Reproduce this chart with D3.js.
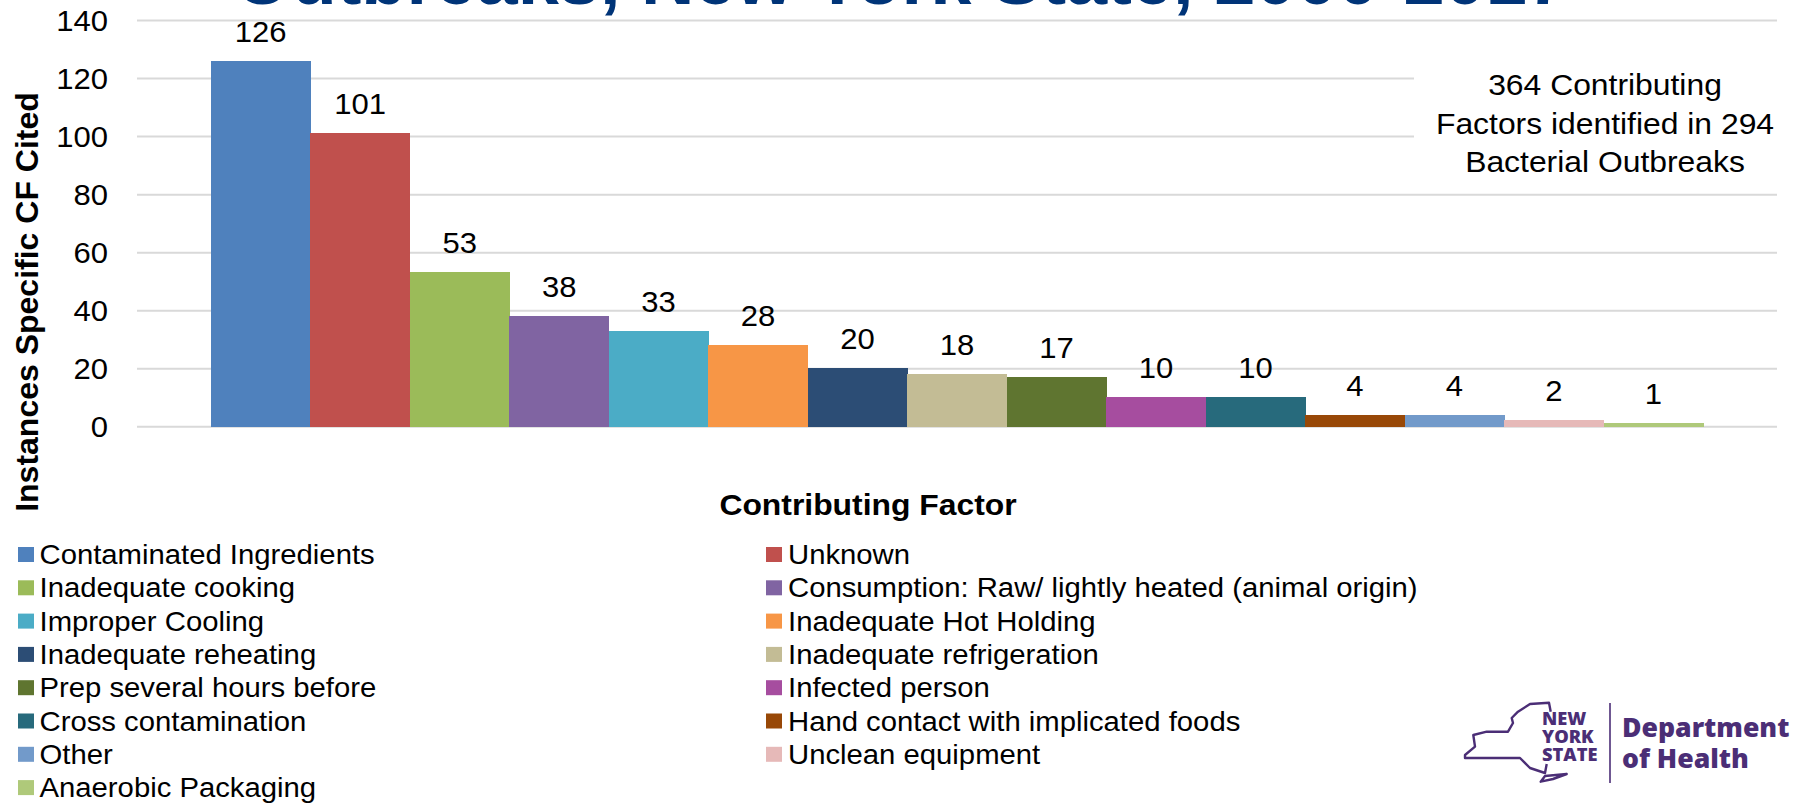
<!DOCTYPE html>
<html><head><meta charset="utf-8">
<script src="https://cdn.jsdelivr.net/npm/d3@7"></script>
<style>
html,body{margin:0;padding:0;background:#fff;overflow:hidden}
svg{display:block}
text{font-family:"Liberation Sans",Arial,sans-serif;fill:#000}
</style></head><body><svg id="c" width="1797" height="805"></svg>
<script>
const categories = ["Contaminated Ingredients","Unknown","Inadequate cooking","Consumption: Raw/ lightly heated (animal origin)","Improper Cooling","Inadequate Hot Holding","Inadequate reheating","Inadequate refrigeration","Prep several hours before","Infected person","Cross contamination","Hand contact with implicated foods","Other","Unclean equipment","Anaerobic Packaging"];
const values = [126,101,53,38,33,28,20,18,17,10,10,4,4,2,1];
const colors = ["#4F81BD","#C0504D","#9BBB59","#8064A2","#4BACC6","#F79646","#2C4D75","#C3BC95","#5F7530","#A64D9F","#276A7C","#984807","#729ACA","#E6B9B8","#AFC97A"];
const yTicks = [0,20,40,60,80,100,120,140];
const noteLines = ["364 Contributing","Factors identified in 294","Bacterial Outbreaks"];
const titleText = "Outbreaks, New York State, 2000-2017";

const svg = d3.select("#c");
const y = d3.scaleLinear().domain([0,140]).range([426.3,20]);
const x = d3.scaleBand().domain(categories).range([211,1703]).padding(0);
const gridLeft = 137, gridRight = 1777, sx = 1.07;

// title (clipped by top of the slide)
svg.append("text").attr("x",901).attr("y",4).attr("text-anchor","middle")
  .attr("font-size",74).attr("font-weight",700).style("fill","#003478").text(titleText);

// axis with gridlines
const axis = d3.axisLeft(y).tickValues(yTicks).tickSize(gridRight-gridLeft).tickFormat(()=>"");
const g = svg.append("g").attr("transform",`translate(${gridRight},0)`).call(axis);
g.select(".domain").remove();
g.selectAll(".tick line").attr("stroke","#D9D9D9").attr("stroke-width",2);
svg.append("g").selectAll("text").data(yTicks).join("text")
  .attr("transform",d=>`translate(108,${y(d)+10.5}) scale(${sx},1)`)
  .attr("text-anchor","end").attr("font-size",29).text(d=>d);

// note box
svg.append("rect").attr("x",1414).attr("y",50).attr("width",370).attr("height",128).attr("fill","#fff");
svg.append("g").selectAll("text").data(noteLines).join("text")
  .attr("transform",(d,i)=>`translate(1605,${95+i*38.5}) scale(1.08,1)`)
  .attr("text-anchor","middle").attr("font-size",29.5).text(d=>d);

// bars
svg.append("g").selectAll("rect").data(values).join("rect")
  .attr("x",(d,i)=>x(categories[i])).attr("width",x.bandwidth()+0.5)
  .attr("y",d=>y(d)).attr("height",d=>y(0)-y(d)+0.7)
  .attr("fill",(d,i)=>colors[i]).attr("shape-rendering","crispEdges");

// value labels
svg.append("g").selectAll("text").data(values).join("text")
  .attr("transform",(d,i)=>`translate(${x(categories[i])+x.bandwidth()/2},${y(d)-19}) scale(${sx},1)`)
  .attr("text-anchor","middle").attr("font-size",29).text(d=>d);

// axis titles
svg.append("text").attr("transform","translate(38,302) rotate(-90)").attr("text-anchor","middle")
  .attr("font-size",32).attr("font-weight",700).text("Instances Specific CF Cited");
svg.append("text").attr("transform","translate(868,515) scale(1.08,1)").attr("text-anchor","middle")
  .attr("font-size",29.5).attr("font-weight",700).text("Contributing Factor");

// legend
const legend = svg.append("g").selectAll("g").data(categories).join("g")
  .attr("transform",(d,i)=>`translate(${i%2?766:18},${547+Math.floor(i/2)*33.3})`);
legend.append("rect").attr("width",16).attr("height",15).attr("fill",(d,i)=>colors[i]);
legend.append("text").attr("transform",(d,i)=>`translate(${i%2?22:21.5},17) scale(1.065,1)`).attr("font-size",27.5).text(d=>d);

// logo
const purple="#4B2E76";
const logo = svg.append("g");
logo.append("path").attr("fill","none").attr("stroke",purple).attr("stroke-width",2.4).attr("stroke-linejoin","round")
 .attr("d","M1550.7 711.7 L1549 702.7 L1530 704 L1518 711.7 L1511.7 718 L1513 723 L1508 731.7 L1486.7 731.7 L1473.3 735 L1475 746.7 L1465 755 L1465 758 L1520 758 L1530 768 L1545 773 L1546.7 764 M1540.7 781.7 L1545 776 L1566.7 774 L1553 779 Z");
const logoText=[["NEW",1542,725],["YORK",1542,743],["STATE",1542,761]];
logo.selectAll("text.a").data(logoText).join("text").attr("class","a")
 .attr("x",d=>d[1]).attr("y",d=>d[2]).attr("font-size",18.3).attr("font-weight",800)
 .style("font-family","'Open Sans'").style("fill",purple).text(d=>d[0]);
logo.append("line").attr("x1",1610).attr("x2",1610).attr("y1",703).attr("y2",783).attr("stroke",purple).attr("stroke-width",1.6);
const logoText2=[["Department",1622,737],["of Health",1622,768]];
logo.selectAll("text.b").data(logoText2).join("text").attr("class","b")
 .attr("x",d=>d[1]).attr("y",d=>d[2]).attr("font-size",26.6).attr("font-weight",800)
 .style("font-family","'Open Sans'").style("fill",purple).text(d=>d[0]);
</script></body></html>
